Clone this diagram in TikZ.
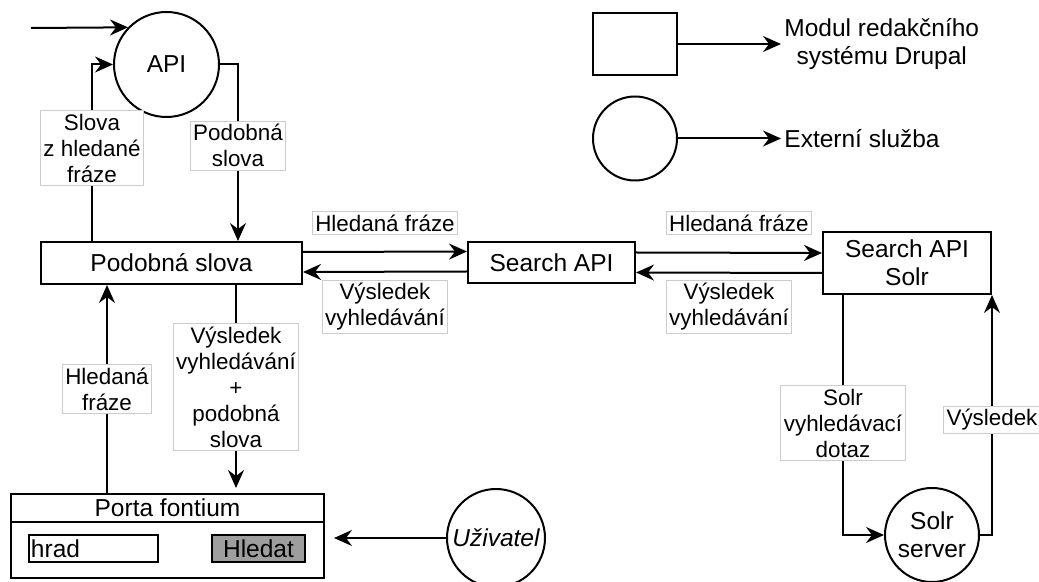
\documentclass[tikz,border=0pt]{standalone}
\usepackage{fontspec}
\setmainfont{Liberation Sans}
\usepackage{tikz}
\usetikzlibrary{shapes}
\usetikzlibrary{arrows.meta}
\usetikzlibrary{positioning}
\definecolor{labelBorder}{rgb}{0.8,0.8,0.8}
\definecolor{buttonFill}{rgb}{0.62,0.62,0.62}
\newcommand{\boxfont}{\fontsize{12.25}{14}\selectfont}
\newcommand{\flowfont}{\fontsize{11.2}{13}\selectfont}
\tikzstyle{module} = [draw, line width=1pt, rectangle, inner sep=0pt, align=center, font=\boxfont]
\tikzstyle{service} = [draw, line width=1pt, circle, inner sep=0pt, align=center, font=\boxfont]
\tikzstyle{field} = [draw, line width=1pt, minimum height=13.5pt, font=\boxfont]
\tikzstyle{flowlabel} = [draw=labelBorder, line width=0.5pt, fill=white, inner xsep=1.5pt, inner ysep=1.5pt, align=center, font=\flowfont]
\tikzstyle{flow} = [line width=1pt, -{Stealth[length=9pt, width=8pt, inset=3pt]}]

\begin{document}
\begin{tikzpicture}[x=0.5pt, y=-0.5pt]
        \useasboundingbox (0,0) rectangle (1039,582);
        % moduly a sluzby
        \node [service, minimum size=52.5pt] (api) at (166.5,64.5) {API};
        \node [module, minimum width=130.5pt, minimum height=21pt] (podobna) at (171.5,263) {Podobná slova};
        \node [module, minimum width=83.5pt, minimum height=20.5pt] (search) at (551.5,262.5) {Search API};
        \node [module, minimum width=84pt, minimum height=31pt] (solr) at (907,263) {Search API\\Solr};
        \node [service, minimum size=47pt] (server) at (932,535) {Solr\\server};
        \node [service, minimum size=49pt] (user) at (496,538) {\itshape Uživatel};
        \node [module, minimum width=156.5pt, minimum height=14pt, anchor=north west] (porta) at (10,493) {Porta fontium};
        \node [module, minimum width=156.5pt, minimum height=28pt, below=-1pt of porta] (form) {};
        \node [field, minimum width=64.5pt, text width=62.5pt, inner xsep=1pt, inner ysep=0pt, anchor=west] (query) at (28,548.5) {hrad};
        \node [field, fill=buttonFill, minimum width=46.5pt, inner sep=0pt] (hledat) at (258.5,548.5) {Hledat};
        % legenda
        \node [module, minimum width=42pt, minimum height=31pt] (legmodule) at (635,44) {};
        \node [service, minimum size=42pt] (legservice) at (635,138.5) {};
        \node [right=51.5pt of legmodule, inner sep=1.5pt, align=center, font=\boxfont] (legmoduletext) {Modul redakčního\\systému Drupal};
        \node [right=51.5pt of legservice, inner sep=1.5pt, font=\boxfont] (legservicetext) {Externí služba};
        \draw [flow] (legmodule.east) -- (legmoduletext.west |- legmodule.east);
        \draw [flow] (legservice.east) -- (legservicetext.west |- legservice.east);
        % toky
        \coordinate (entry) at (31,28);
        \draw [flow] (entry) -- (api.136);
        \draw [flow]
            ([xshift=26pt]podobna.north west)
            |-
            node [flowlabel, pos=0.263] {Slova\\z hledané\\fráze} (api.west);
        \draw [flow]
            (api.east)
            -|
            node [flowlabel, pos=0.73] {Podobná\\slova} ([xshift=99pt]podobna.north west);
        \draw [flow]
            ([yshift=5.5pt]podobna.east)
            --
            node [flowlabel, above=8.5pt] {Hledaná fráze} ([yshift=5.5pt]search.west);
        \draw [flow]
            ([yshift=-4.5pt]search.west)
            --
            node [flowlabel, below=4pt] {Výsledek\\vyhledávání} ([yshift=-4.5pt]podobna.east);
        \draw [flow]
            ([yshift=5pt]search.east)
            --
            node [flowlabel, pos=0.553, above=9pt] {Hledaná fráze} ([yshift=5pt]solr.west);
        \draw [flow]
            ([yshift=-5pt]solr.west)
            --
            node [flowlabel, below=3.5pt] {Výsledek\\vyhledávání} ([yshift=-5pt]search.east);
        \draw [flow]
            ([xshift=10.5pt]solr.south west)
            |-
            node [flowlabel, pos=0.267] {Solr\\vyhledávací\\dotaz} (server.west);
        \draw [flow]
            (server.east)
            -|
            node [flowlabel, pos=0.74] {Výsledek} (solr.south east);
        \draw [flow, shorten >=2.5pt]
            ([xshift=98pt]podobna.south west)
            --
            node [flowlabel, pos=0.49] {Výsledek\\vyhledávání\\+\\podobná\\slova} ([xshift=98pt]podobna.south west |- porta.north);
        \draw [flow]
            ([xshift=48.5pt]porta.north west)
            --
            node [flowlabel] {Hledaná\\fráze} ([xshift=48.5pt]porta.north west |- podobna.south);
        \draw [flow, shorten >=4.5pt] (user.west) -- (user.west -| form.east);
    \end{tikzpicture}
\end{document}
